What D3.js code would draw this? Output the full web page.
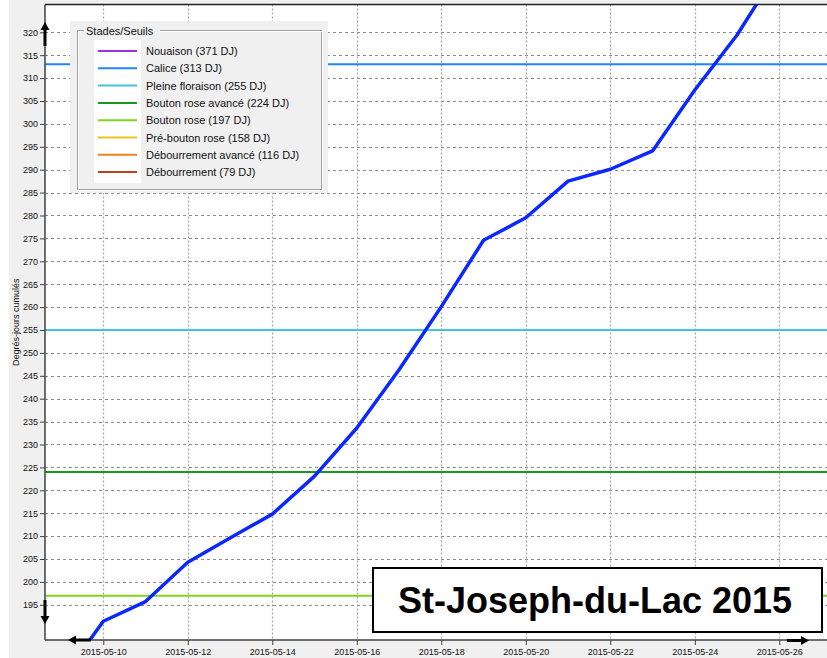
<html>
<head>
<meta charset="utf-8">
<style>
  body { margin: 0; background: #ffffff; }
  svg { display: block; font-family: "Liberation Sans", Arial, sans-serif; }
</style>
</head>
<body>
<svg id="chart" width="827" height="658"></svg>

<script src="https://d3js.org/d3.v7.min.js"></script>
<script type="text/javascript">
// cumulative degree-days, one value per day
const days = ["2015-05-09", "2015-05-10", "2015-05-11", "2015-05-12", "2015-05-13", "2015-05-14",
  "2015-05-15", "2015-05-16", "2015-05-17", "2015-05-18", "2015-05-19", "2015-05-20",
  "2015-05-21", "2015-05-22", "2015-05-23", "2015-05-24", "2015-05-25", "2015-05-26"];
const degreeDays = [178.6, 191.4, 195.7, 204.3, 209.6, 214.8, 223.1, 233.6, 246.3, 260.1,
  274.6, 279.5, 287.5, 290.1, 294.1, 307.4, 319.4, 334.0];

// phenological stages (legend order)
const stageNames = ["Nouaison", "Calice", "Pleine floraison", "Bouton rose avancé", "Bouton rose",
  "Pré-bouton rose", "Débourrement avancé", "Débourrement"];
const stageThresholds = [371, 313, 255, 224, 197, 158, 116, 79];
const stageColors = ["#a030e8", "#1e84ff", "#40c4dc", "#1c961c", "#80d41c", "#e8c41c", "#f0801c", "#c0401c"];

const xTickDays = ["2015-05-10", "2015-05-12", "2015-05-14", "2015-05-16", "2015-05-18",
  "2015-05-20", "2015-05-22", "2015-05-24", "2015-05-26"];
const yTickValues = d3.range(195, 321, 5);

const titleText = "St-Joseph-du-Lac 2015";
const yLabel = "Degrés-jours cumulés";

const parseDay = d3.utcParse("%Y-%m-%d");
const fmtDay = d3.utcFormat("%Y-%m-%d");

const plot = { left: 45, top: 4.5, right: 827, bottom: 640 };

const svg = d3.select("#chart");

// window background
svg.append("rect").attr("x", 9).attr("y", 0).attr("width", 818).attr("height", 658).attr("fill", "#f0f0f0");

// scales
const x = d3.scaleUtc()
  .domain([parseDay("2015-05-10"), parseDay("2015-05-26")])
  .range([103.3, 779.3]);
const y = d3.scaleLinear()
  .domain([195, 320])
  .range([604.8, 32.3]);

svg.append("defs").append("clipPath").attr("id", "plotclip")
  .append("rect")
  .attr("x", plot.left).attr("y", plot.top)
  .attr("width", plot.right - plot.left).attr("height", plot.bottom - plot.top);

svg.append("rect")
  .attr("x", plot.left).attr("y", plot.top)
  .attr("width", plot.right - plot.left).attr("height", plot.bottom - plot.top)
  .attr("fill", "#ffffff");

const inner = svg.append("g").attr("clip-path", "url(#plotclip)");

// grid
inner.selectAll(".hgrid")
  .data(yTickValues)
  .join("line")
  .attr("x1", plot.left).attr("x2", plot.right)
  .attr("y1", d => Math.round(y(d)) + 0.5).attr("y2", d => Math.round(y(d)) + 0.5)
  .attr("stroke", "#8c8c8c").attr("stroke-width", 1).attr("stroke-dasharray", "3,3");

inner.selectAll(".vgrid")
  .data(xTickDays.map(parseDay))
  .join("line")
  .attr("x1", d => Math.round(x(d)) + 0.5).attr("x2", d => Math.round(x(d)) + 0.5)
  .attr("y1", plot.top).attr("y2", plot.bottom)
  .attr("stroke", "#a8a8a8").attr("stroke-width", 1.3).attr("stroke-dasharray", "2,2");

// threshold lines
inner.selectAll(".threshold")
  .data(stageThresholds)
  .join("line")
  .attr("x1", plot.left).attr("x2", plot.right)
  .attr("y1", d => y(d)).attr("y2", d => y(d))
  .attr("stroke", (d, i) => stageColors[i]).attr("stroke-width", 2);

// degree-day curve
const line = d3.line()
  .x((d, i) => x(parseDay(days[i])))
  .y(d => y(d));

inner.append("path")
  .datum(degreeDays)
  .attr("d", line)
  .attr("fill", "none")
  .attr("stroke", "#0a28ff")
  .attr("stroke-width", 3.5)
  .attr("stroke-linejoin", "round");

// axes
const yAxis = svg.append("g")
  .attr("transform", `translate(${plot.left},0)`)
  .call(d3.axisLeft(y).tickValues(yTickValues).tickSize(5).tickPadding(2));
const xAxis = svg.append("g")
  .attr("transform", `translate(0,${plot.bottom})`)
  .call(d3.axisBottom(x).tickValues(xTickDays.map(parseDay)).tickFormat(fmtDay).tickSize(5).tickPadding(4));

[yAxis, xAxis].forEach(a => {
  a.select(".domain").remove();
  a.selectAll("text").attr("font-size", 9).attr("fill", "#101010")
    .attr("font-family", "'Liberation Sans', Arial, sans-serif");
  a.selectAll(".tick line").attr("stroke", "#404040");
});

// frame
svg.append("line").attr("x1", plot.left).attr("x2", plot.right).attr("y1", plot.top).attr("y2", plot.top)
  .attr("stroke", "#202020").attr("stroke-width", 1.5);
svg.append("line").attr("x1", plot.left).attr("x2", plot.left).attr("y1", plot.top).attr("y2", plot.bottom)
  .attr("stroke", "#404040").attr("stroke-width", 1.5);
svg.append("line").attr("x1", plot.left).attr("x2", plot.right).attr("y1", plot.bottom).attr("y2", plot.bottom)
  .attr("stroke", "#404040").attr("stroke-width", 1.5);

// y axis title
svg.append("text")
  .attr("transform", `translate(19,${(plot.top + plot.bottom) / 2}) rotate(-90)`)
  .attr("text-anchor", "middle")
  .attr("font-size", 9)
  .attr("fill", "#101010")
  .text(yLabel);

// scroll arrows
const arrows = svg.append("g").attr("fill", "#000000");
arrows.append("path").attr("d", "M45,22 L49.5,30 L46.5,30 L46.5,46 L43.5,46 L43.5,30 L40.5,30 Z");
arrows.append("path").attr("d", "M45,624 L49.5,616 L46.5,616 L46.5,600 L43.5,600 L43.5,616 L40.5,616 Z");
arrows.append("path").attr("d", "M68,640 L76,635.5 L76,638.5 L91,638.5 L91,641.5 L76,641.5 L76,644.5 Z");
arrows.append("path").attr("d", "M809,640.5 L801,636 L801,639 L787,639 L787,642 L801,642 L801,645 Z");

// legend
const lg = svg.append("g");
lg.append("rect").attr("x", 70).attr("y", 21).attr("width", 258).attr("height", 172).attr("fill", "#f0f0f0");
lg.append("rect").attr("x", 77.5).attr("y", 30.5).attr("width", 244).attr("height", 159)
  .attr("fill", "none").attr("stroke", "#a0a0a0").attr("stroke-width", 1);
lg.append("rect").attr("x", 78.5).attr("y", 31.5).attr("width", 244).attr("height", 159)
  .attr("fill", "none").attr("stroke", "#ffffff").attr("stroke-width", 1);
lg.append("rect").attr("x", 84).attr("y", 25).attr("width", 76).attr("height", 12).attr("fill", "#f0f0f0");
lg.append("text").attr("x", 86).attr("y", 35).attr("font-size", 11).attr("fill", "#101010").text("Stades/Seuils");
lg.append("rect").attr("x", 94).attr("y", 40).attr("width", 47).attr("height", 143).attr("fill", "#ffffff");

const rowY = i => 51 + i * 17.3;
lg.selectAll(".sw")
  .data(stageNames)
  .join("line")
  .attr("x1", 98).attr("x2", 137)
  .attr("y1", (d, i) => rowY(i)).attr("y2", (d, i) => rowY(i))
  .attr("stroke", (d, i) => stageColors[i]).attr("stroke-width", 2);
lg.selectAll(".lt")
  .data(stageNames)
  .join("text")
  .attr("x", 146)
  .attr("y", (d, i) => rowY(i) + 4)
  .attr("font-size", 11)
  .attr("fill", "#101010")
  .text((d, i) => `${d} (${stageThresholds[i]} DJ)`);

// title box
svg.append("rect").attr("x", 373).attr("y", 568).attr("width", 449).attr("height", 64)
  .attr("fill", "#ffffff").attr("stroke", "#000000").attr("stroke-width", 2);
svg.append("text")
  .attr("x", 595).attr("y", 613)
  .attr("text-anchor", "middle")
  .attr("font-size", 36).attr("font-weight", "bold")
  .attr("fill", "#000000")
  .text(titleText);
</script>
</body>
</html>
